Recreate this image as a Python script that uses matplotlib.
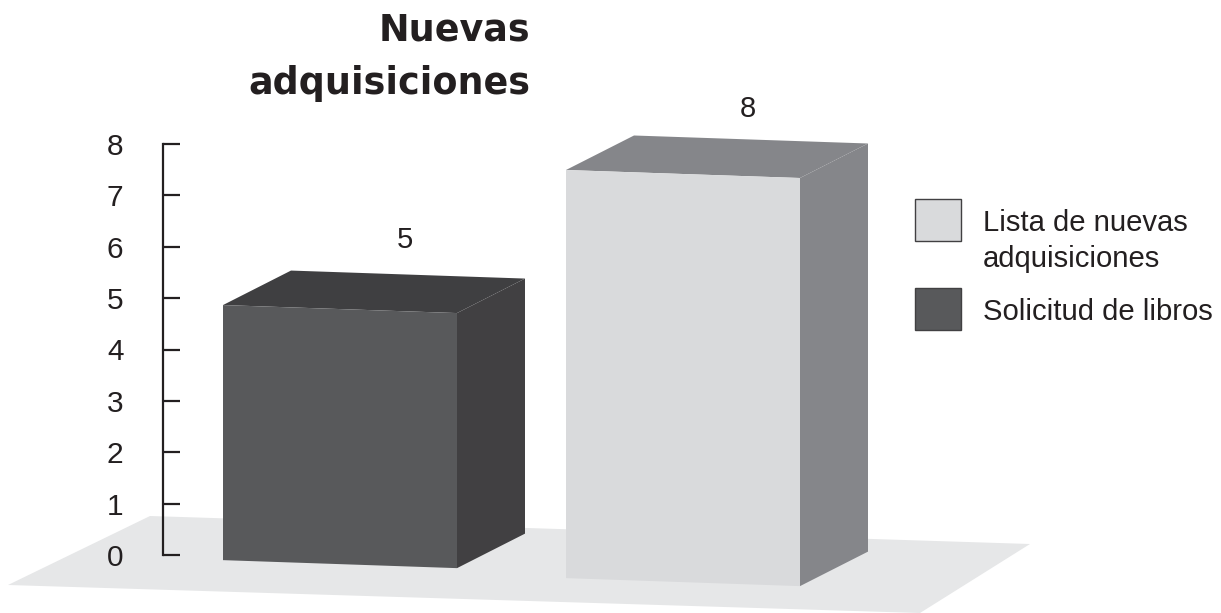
import matplotlib
matplotlib.use('Agg')
import matplotlib.pyplot as plt
from matplotlib.patches import Polygon, Rectangle

plt.rcParams['font.family'] = ['Liberation Sans', 'DejaVu Sans']

categories = ['Solicitud de libros', 'Lista de nuevas\nadquisiciones']
values = [5, 8]
ticks = [0, 1, 2, 3, 4, 5, 6, 7, 8]

front_colors = ['#58595b', '#d9dadc']
side_colors = ['#414042', '#85868a']
top_colors = ['#3f3f41', '#85868a']
bar_left = [223, 566]
bar_base = [-0.10, -0.45]   # front left corner, in axis units
text_color = '#231f20'

W, H = 1221, 613
PX = 51.375  # pixels per unit of y
Y0 = 555     # pixel row of value 0


def yv(py):
    return (Y0 - py) / PX


fig = plt.figure(figsize=(W / 100, H / 100), dpi=100)
ax = fig.add_axes([0, 0, 1, 1])
ax.set_xlim(0, W)
ax.set_ylim(yv(H), yv(0))
ax.patch.set_visible(False)

# floor
ax.add_patch(Polygon([(150, yv(516)), (1030, yv(544)), (920, yv(613)), (8, yv(585))],
                     closed=True, fc='#e6e7e8', ec='none', zorder=1))

# bars, a front face plus side and top
bw, dx, dy, tilt = 234, 68, 34.5 / PX, 8 / PX
for i in range(len(values)):
    x = bar_left[i]
    b = bar_base[i]
    h = values[i] * 0.993
    front = [(x, b), (x + bw, b - tilt), (x + bw, b - tilt + h), (x, b + h)]
    side = [(x + bw, b - tilt), (x + bw + dx, b - tilt + dy),
            (x + bw + dx, b - tilt + dy + h), (x + bw, b - tilt + h)]
    top = [(x, b + h), (x + bw, b - tilt + h),
           (x + bw + dx, b - tilt + dy + h), (x + dx, b + dy + h)]
    ax.add_patch(Polygon(side, closed=True, fc=side_colors[i], ec='none', zorder=2))
    ax.add_patch(Polygon(top, closed=True, fc=top_colors[i], ec='none', zorder=2))
    ax.add_patch(Polygon(front, closed=True, fc=front_colors[i], ec='none', zorder=3))

# value labels
ax.text(405, yv(240), str(values[0]), fontsize=21, color=text_color, ha='center', va='center')
ax.text(748, yv(109), str(values[1]), fontsize=21, color=text_color, ha='center', va='center')

# y axis
for s in ['top', 'right', 'bottom']:
    ax.spines[s].set_visible(False)
ax.spines['left'].set_position(('data', 163))
ax.spines['left'].set_bounds(0, 8)
ax.spines['left'].set_linewidth(1.6)
ax.spines['left'].set_color(text_color)
ax.spines['left'].set_zorder(4)
ax.set_xticks([])
ax.set_yticks(ticks)
ax.tick_params(axis='y', direction='in', length=12.5, width=1.6, color=text_color,
               labelcolor=text_color, labelsize=21.5, pad=28.5)

# title
ax.text(530, yv(30), 'Nuevas', fontsize=26.3, fontweight='bold', family='DejaVu Sans',
        color=text_color, ha='right', va='center')
ax.text(530, yv(84), 'adquisiciones', fontsize=26.3, fontweight='bold', family='DejaVu Sans',
        color=text_color, ha='right', va='center')

# legend
ax.add_patch(Rectangle((915, yv(241)), 46, 42 / PX, fc=front_colors[1], ec='#414042', lw=1))
ax.add_patch(Rectangle((915, yv(330)), 46, 42 / PX, fc=front_colors[0], ec='#414042', lw=1))
ax.text(983, yv(241), categories[1], fontsize=21.1, color=text_color, ha='left', va='center',
        linespacing=1.33)
ax.text(983, yv(312), categories[0], fontsize=21.1, color=text_color, ha='left', va='center')

fig.savefig('out.png', dpi=100)
